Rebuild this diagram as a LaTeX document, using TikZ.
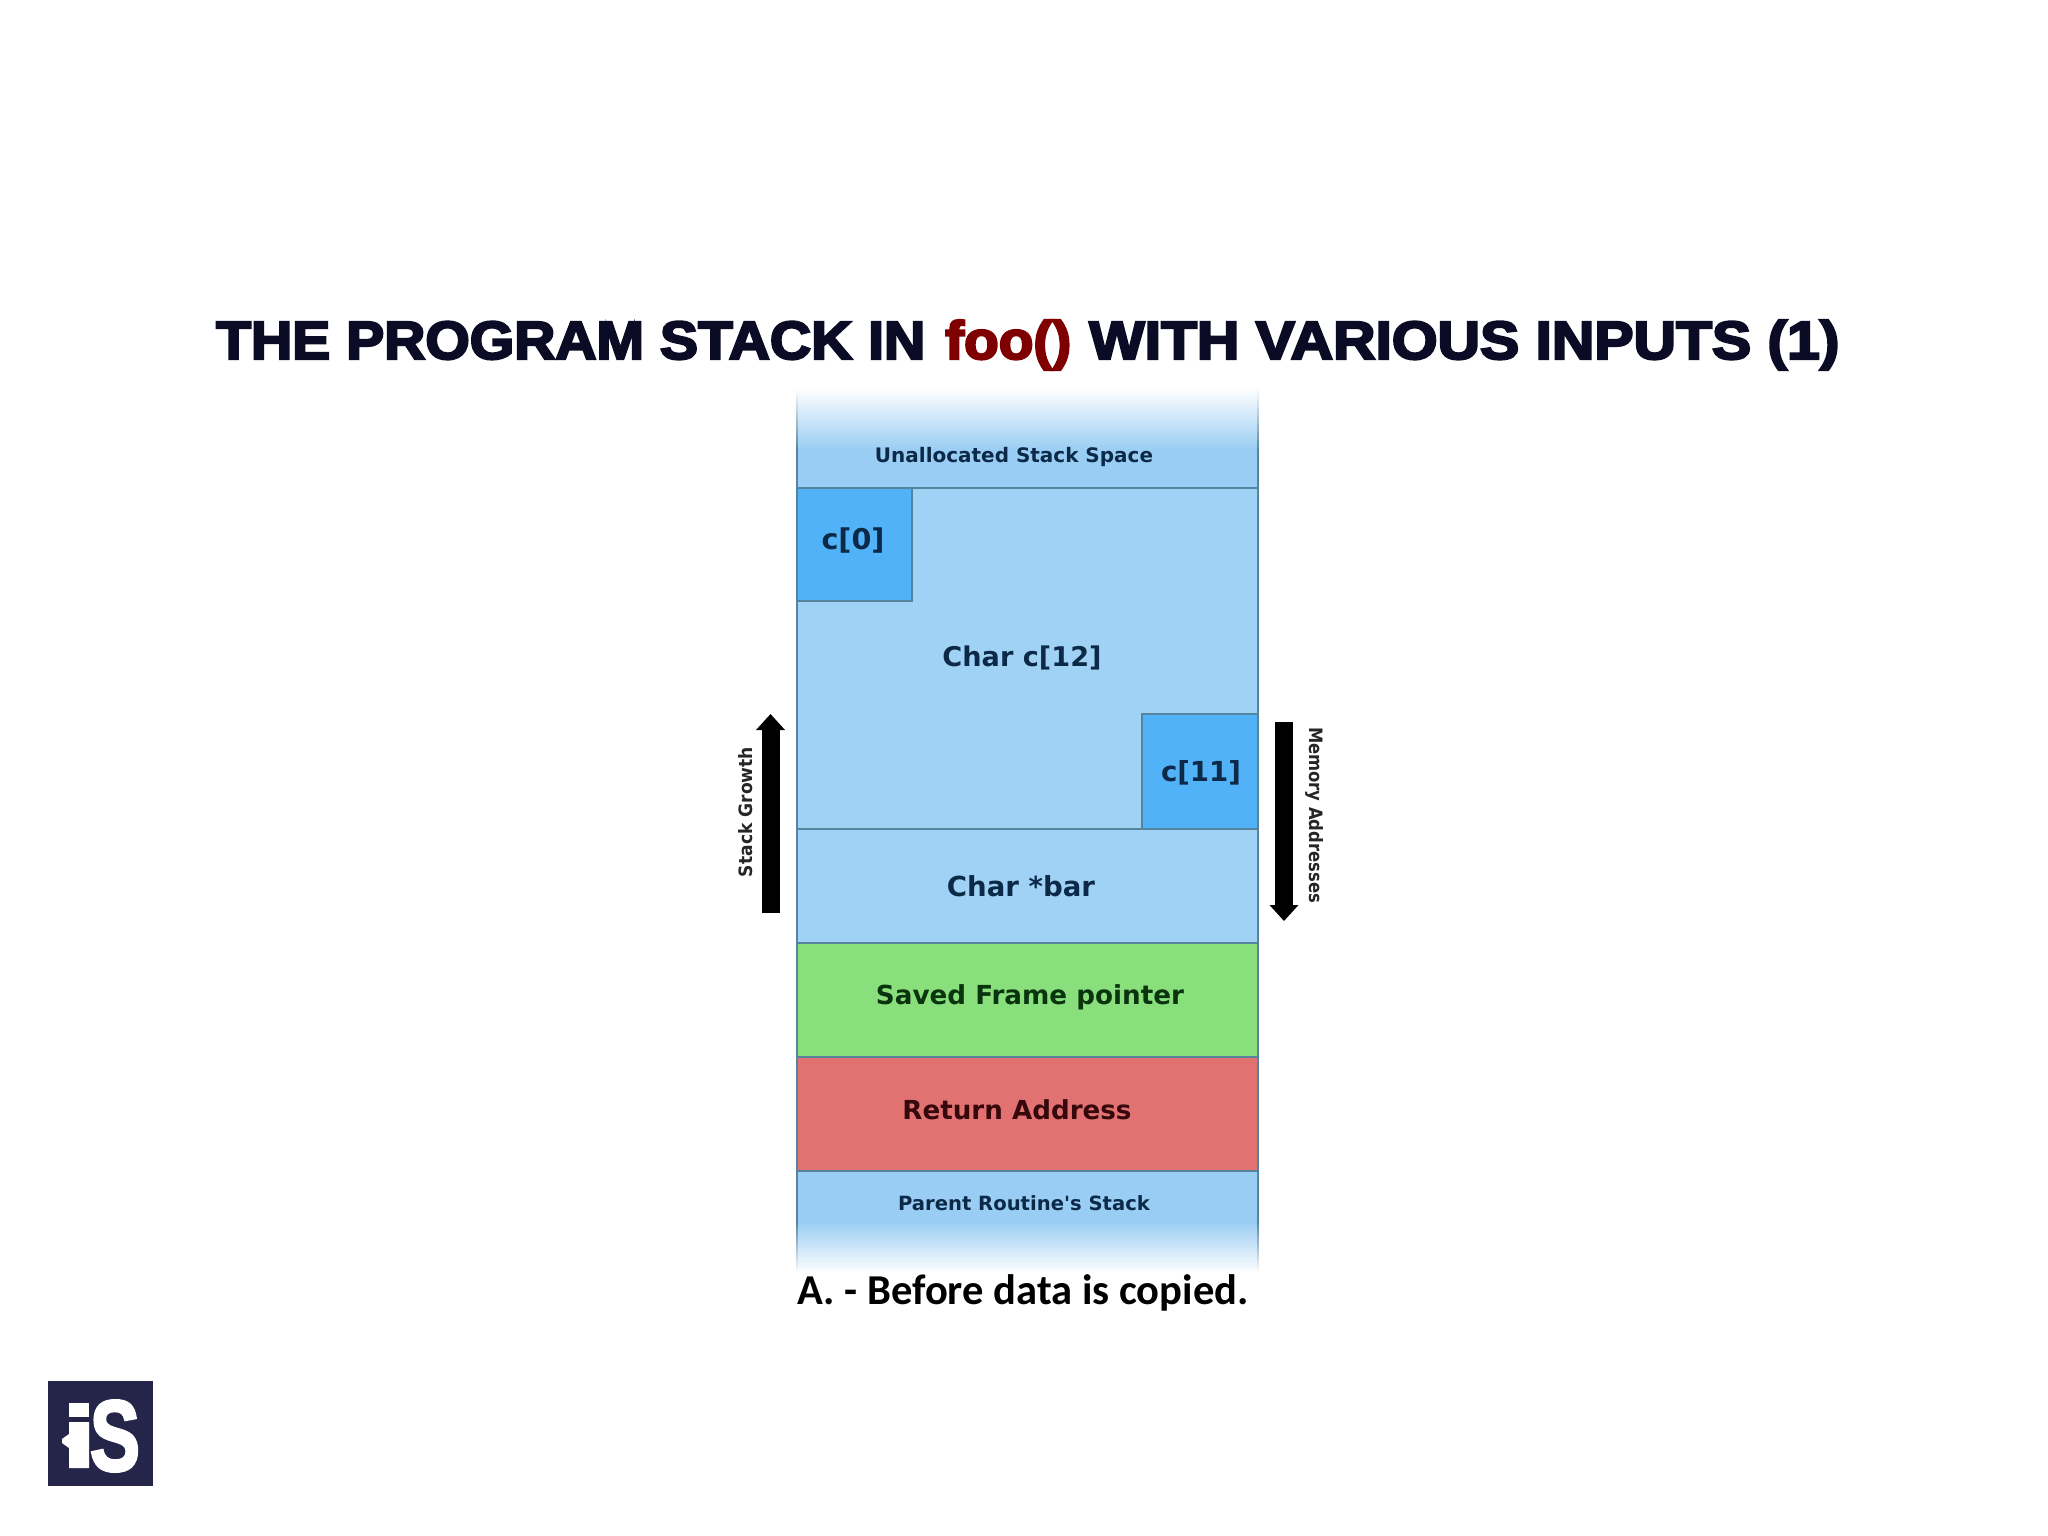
\documentclass[tikz,border=0pt]{standalone}
\usepackage{fontspec}
\usepackage{graphicx}
\usetikzlibrary{arrows.meta}
\setmainfont{DejaVu Sans}[BoldFont={DejaVu Sans Bold}]
\newfontfamily\titlefont{Liberation Sans Bold}[FakeBold=4]
\newfontfamily\capfont{Carlito Bold}
\newfontfamily\logofont{Liberation Sans Bold}[FakeBold=3]
\newcommand{\wfit}[2]{\resizebox{#1pt}{!}{#2}}
\newcommand{\titlefit}[2]{\resizebox{#1pt}{39pt}{\titlefont\vphantom{(}#2}}
\definecolor{cellblue}{HTML}{A0D2F6}
\definecolor{bandblue}{HTML}{99CDF3}
\definecolor{deepblue}{HTML}{52B2F8}
\definecolor{cellgreen}{HTML}{88DF7C}
\definecolor{cellred}{HTML}{E27272}
\definecolor{edgeblue}{HTML}{56849F}
\definecolor{titleink}{HTML}{0B0B25}
\definecolor{fooink}{HTML}{7F0000}
\definecolor{logoink}{HTML}{25254A}
\definecolor{blueink}{HTML}{0C2A48}
\definecolor{greenink}{HTML}{0A340E}
\definecolor{redink}{HTML}{36070B}
\tikzset{
  x=1pt,y=-1pt,
  cellbox/.style={draw=edgeblue,line width=1.5pt,fill=#1,minimum width=461pt,inner sep=0pt,outer sep=0pt,anchor=north west},
  charbox/.style={draw=edgeblue,line width=1.5pt,fill=deepblue,inner sep=0pt,outer sep=0pt,anchor=north west},
  lab/.style={inner sep=0pt,font=\bfseries},
  titlepart/.style={inner sep=0pt,anchor=base west},
  blockarrow/.style={line width=18pt,black,-{Triangle[length=16pt,width=28pt]}},
}
\begin{document}
\begin{tikzpicture}
\useasboundingbox (0,0) rectangle (2048,1536);
\fill[white] (0,0) rectangle (2048,1536);
% title
\node[titlepart,text=titleink] (titleA) at (216,359) {\titlefit{709}{THE PROGRAM STACK IN}};
\node[titlepart,text=fooink] (titleB) at (945,359) {\titlefit{126}{foo()}};
\node[titlepart,text=titleink] (titleC) at (1089,359) {\titlefit{750}{WITH VARIOUS INPUTS (1)}};
% stack: faded ends
\shade[top color=white,bottom color=bandblue] (797,388) rectangle (1258,450);
\fill[bandblue] (797,450) rectangle (1258,488);
\shade[top color=bandblue,bottom color=white] (797,1221) rectangle (1258,1273);
\fill[bandblue] (797,1171) rectangle (1258,1221);
\shade[top color=white,bottom color=edgeblue] (796.2,388) rectangle (797.8,450);
\shade[top color=white,bottom color=edgeblue] (1257.2,388) rectangle (1258.8,450);
\fill[edgeblue] (796.2,450) rectangle (797.8,488);
\fill[edgeblue] (1257.2,450) rectangle (1258.8,488);
\fill[edgeblue] (796.2,1171) rectangle (797.8,1221);
\fill[edgeblue] (1257.2,1171) rectangle (1258.8,1221);
\shade[top color=edgeblue,bottom color=white] (796.2,1221) rectangle (797.8,1273);
\shade[top color=edgeblue,bottom color=white] (1257.2,1221) rectangle (1258.8,1273);
% cells
\node[cellbox=cellblue,minimum height=341pt] (arr) at (797,488) {};
\node[cellbox=cellblue,minimum height=114pt] (bar) at (797,829) {};
\node[cellbox=cellgreen,minimum height=114pt] (sfp) at (797,943) {};
\node[cellbox=cellred,minimum height=114pt] (ret) at (797,1057) {};
\node[charbox,minimum width=115pt,minimum height=113pt] (c0) at (797,488) {};
\node[charbox,minimum width=116pt,minimum height=115pt] (c11) at (1142,714) {};
% labels
\node[lab,text=blueink] (lunalloc) at (1014,457) {\wfit{278}{Unallocated Stack Space}};
\node[lab,text=blueink] (lc0) at (853,541) {\wfit{63}{c[0]}};
\node[lab,text=blueink] (lc12) at (1022,658) {\wfit{159}{Char c[12]}};
\node[lab,text=blueink] (lc11) at (1201,773) {\wfit{80}{c[11]}};
\node[lab,text=blueink] (lbar) at (1021,886) {\wfit{148}{Char *bar}};
\node[lab,text=greenink] (lsfp) at (1030,997) {\wfit{308}{Saved Frame pointer}};
\node[lab,text=redink] (lret) at (1017,1110) {\wfit{229}{Return Address}};
\node[lab,text=blueink] (lpar) at (1024,1203) {\wfit{252}{Parent Routine\textquotesingle s Stack}};
% growth arrows
\coordinate (upfrom) at (770.5,913);
\coordinate (upto) at (770.5,714);
\coordinate (downfrom) at (1284,722);
\coordinate (downto) at (1284,921);
\draw[blockarrow] (upfrom) -- (upto);
\draw[blockarrow] (downfrom) -- (downto);
\node[lab,text=black!85,rotate=90] (lgrow) at (746,812) {\resizebox{130pt}{14pt}{Stack Growth}};
\node[lab,text=black!85,rotate=-90] (lmem) at (1314,815) {\resizebox{176pt}{14pt}{Memory Addresses}};
% caption
\node[inner sep=0pt,text=black] (cap) at (1023,1293) {\wfit{451}{\capfont A. - Before data is copied.}};
% logo
\fill[logoink] (48,1381) rectangle (153,1486);
\fill[white] (69,1403) rectangle (89,1417);
\fill[white] (69,1422) -- (89,1422) -- (89,1468) -- (69,1468) -- (69,1448) -- (62,1443) -- (62,1439) -- (69,1434) -- cycle;
\node[inner sep=0pt,text=white] (logoS) at (115,1436) {\resizebox{50pt}{70pt}{\logofont S}};
\end{tikzpicture}
\end{document}
